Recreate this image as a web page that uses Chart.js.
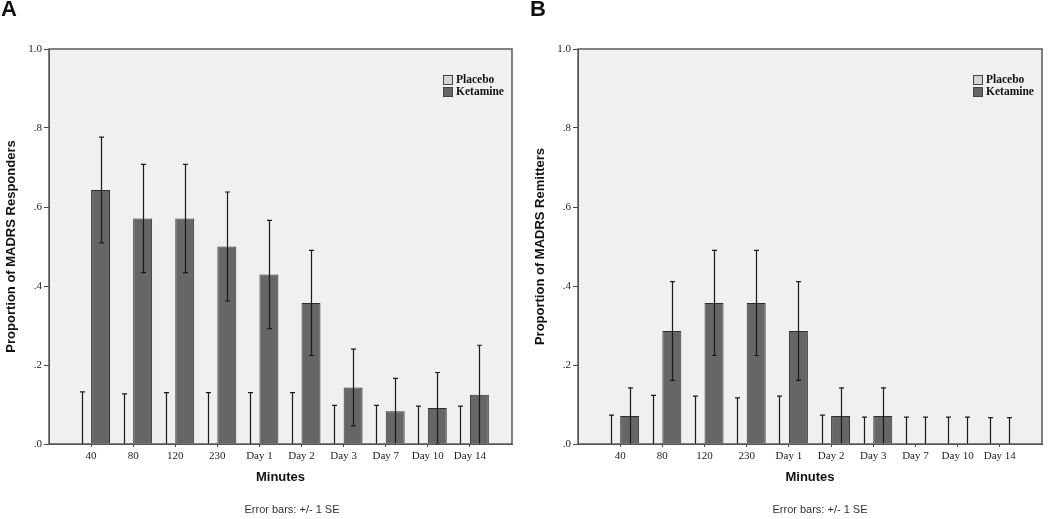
<!DOCTYPE html>
<html>
<head>
<meta charset="utf-8">
<script src="https://cdn.jsdelivr.net/npm/chart.js@4.4.0/dist/chart.umd.min.js"></script>
<style>
  body { margin: 0; background: #fff; }
  #wrap { position: relative; width: 1050px; height: 519px; overflow: hidden; }
  .panel { position: absolute; top: 0; width: 525px; height: 519px; }
  .letter { position: absolute; top: -4px; font: bold 22px "Liberation Sans", Arial, sans-serif; color: #111; }
  .note { position: absolute; top: 503px; font: 11px "Liberation Sans", Arial, sans-serif; color: #333;
          transform: translateX(-50%); white-space: nowrap; }
</style>
</head>
<body>
<div id="wrap">
  <div class="panel" style="left:0"><canvas id="chartA" width="525" height="519"></canvas></div>
  <div class="panel" style="left:525px"><canvas id="chartB" width="525" height="519"></canvas></div>
  <div class="letter" style="left:1px">A</div>
  <div class="letter" style="left:530px">B</div>
  <div class="note" style="left:292px">Error bars: +/- 1 SE</div>
  <div class="note" style="left:820px">Error bars: +/- 1 SE</div>
</div>
<script>
const categories = ['40', '80', '120', '230', 'Day 1', 'Day 2', 'Day 3', 'Day 7', 'Day 10', 'Day 14'];

// A: responders
const respPlacebo = [0, 0, 0, 0, 0, 0, 0, 0, 0, 0];
const respPlaceboSE = [0.132, 0.127, 0.130, 0.130, 0.130, 0.130, 0.098, 0.098, 0.096, 0.096];
const respKetamine = [0.643, 0.571, 0.571, 0.500, 0.429, 0.357, 0.143, 0.083, 0.091, 0.125];
const respKetamineSE = [0.134, 0.137, 0.137, 0.138, 0.137, 0.133, 0.097, 0.083, 0.090, 0.125];

// B: remitters
const remitPlacebo = [0, 0, 0, 0, 0, 0, 0, 0, 0, 0];
const remitPlaceboSE = [0.073, 0.123, 0.121, 0.117, 0.121, 0.073, 0.068, 0.068, 0.068, 0.067];
const remitKetamine = [0.071, 0.286, 0.357, 0.357, 0.286, 0.071, 0.071, 0, 0, 0];
const remitKetamineSE = [0.071, 0.125, 0.133, 0.133, 0.125, 0.071, 0.071, 0.068, 0.068, 0.067];

const sans = '"Liberation Sans", Arial, sans-serif';
const serif = '"Liberation Serif", "Times New Roman", serif';

const frame = {
  id: 'frame',
  beforeDraw(chart) {
    const a = chart.chartArea;
    chart.ctx.save();
    chart.ctx.fillStyle = '#f0f0f0';
    chart.ctx.fillRect(a.left, a.top, a.right - a.left, a.bottom - a.top);
    chart.ctx.restore();
  },
  afterDraw(chart) {
    const a = chart.chartArea;
    const ctx = chart.ctx;
    ctx.save();
    ctx.strokeStyle = '#5a5a5a';
    ctx.lineWidth = 1.5;
    ctx.strokeRect(a.left, a.top, a.right - a.left, a.bottom - a.top);
    ctx.restore();
  }
};

const errorBars = {
  id: 'errorBars',
  afterDatasetsDraw(chart) {
    const ctx = chart.ctx;
    const y = chart.scales.y;
    chart.data.datasets.forEach((ds, di) => {
      const meta = chart.getDatasetMeta(di);
      meta.data.forEach((bar, i) => {
        const v = ds.data[i].y;
        const se = ds.se[i];
        const low = v - se;
        const top = y.getPixelForValue(v + se);
        const bot = y.getPixelForValue(Math.max(0, low));
        const x = Math.round(bar.x) + 0.5;
        ctx.save();
        ctx.strokeStyle = '#1a1a1a';
        ctx.lineWidth = 1.2;
        ctx.beginPath();
        ctx.moveTo(x, top);
        ctx.lineTo(x, bot);
        ctx.moveTo(x - 2.5, top);
        ctx.lineTo(x + 2.5, top);
        if (low > 0) {
          ctx.moveTo(x - 2.5, bot);
          ctx.lineTo(x + 2.5, bot);
        }
        ctx.stroke();
        ctx.restore();
      });
    });
  }
};

const boxLegend = {
  id: 'boxLegend',
  afterDraw(chart) {
    const ctx = chart.ctx;
    const a = chart.chartArea;
    const x = a.right - 69;
    const y0 = a.top + 26;
    ctx.save();
    chart.data.datasets.forEach((ds, i) => {
      const y = y0 + i * 12;
      ctx.fillStyle = ds.backgroundColor;
      ctx.fillRect(x, y, 9, 9);
      ctx.strokeStyle = '#444';
      ctx.lineWidth = 1;
      ctx.strokeRect(x + 0.5, y + 0.5, 9, 9);
      ctx.fillStyle = '#111';
      ctx.font = 'bold 11.5px ' + serif;
      ctx.textBaseline = 'middle';
      ctx.fillText(ds.label, x + 13, y + 5);
    });
    ctx.restore();
  }
};

function makeChart(id, yTitle, placebo, placeboSE, ketamine, ketamineSE, padLeft, padRight) {
  const ctx = document.getElementById(id).getContext('2d');
  return new Chart(ctx, {
    type: 'bar',
    data: {
      datasets: [{
        label: 'Placebo',
        data: categories.map((c, i) => ({ x: i, y: placebo[i] })),
        se: placeboSE,
        backgroundColor: '#d4d4d4',
        borderColor: '#444',
        borderWidth: 1,
        categoryPercentage: 0.9,
        barPercentage: 1
      }, {
        label: 'Ketamine',
        data: categories.map((c, i) => ({ x: i, y: ketamine[i] })),
        se: ketamineSE,
        backgroundColor: '#666666',
        borderColor: '#2e2e2e',
        borderWidth: 1,
        categoryPercentage: 0.9,
        barPercentage: 1
      }]
    },
    options: {
      responsive: false,
      animation: false,
      layout: { padding: { top: 49, left: padLeft, right: padRight, bottom: 30 } },
      plugins: { legend: { display: false }, tooltip: { enabled: false } },
      scales: {
        x: {
          type: 'linear',
          min: -1,
          max: 10,
          offset: false,
          afterBuildTicks: axis => {
            axis.ticks = axis.ticks.filter(t => t.value >= 0 && t.value <= 9);
          },
          ticks: {
            stepSize: 1,
            autoSkip: false,
            maxRotation: 0,
            callback: v => categories[v],
            font: { family: serif, size: 11 },
            color: '#222',
            padding: 3
          },
          grid: { offset: false, drawOnChartArea: false, tickLength: 3, color: '#444' },
          border: { color: '#444' },
          title: {
            display: true,
            text: 'Minutes',
            font: { family: sans, size: 13, weight: 'bold' },
            color: '#111',
            padding: { top: 4, bottom: 4 }
          },
          afterFit: axis => { axis.height = 45; }
        },
        y: {
          min: 0,
          max: 1,
          ticks: {
            stepSize: 0.2,
            callback: v => v.toFixed(1).replace(/^0/, ''),
            font: { family: serif, size: 11 },
            color: '#222',
            padding: 2
          },
          grid: { drawOnChartArea: false, tickLength: 5, color: '#444' },
          border: { color: '#444' },
          title: {
            display: true,
            text: yTitle,
            font: { family: sans, size: 13, weight: 'bold' },
            color: '#111'
          },
          afterFit: axis => { axis.width = 49; }
        }
      }
    },
    plugins: [frame, errorBars, boxLegend]
  });
}

makeChart('chartA', 'Proportion of MADRS Responders',
  respPlacebo, respPlaceboSE, respKetamine, respKetamineSE, 0, 13);
makeChart('chartB', 'Proportion of MADRS Remitters',
  remitPlacebo, remitPlaceboSE, remitKetamine, remitKetamineSE, 4, 8);
</script>
</body>
</html>
